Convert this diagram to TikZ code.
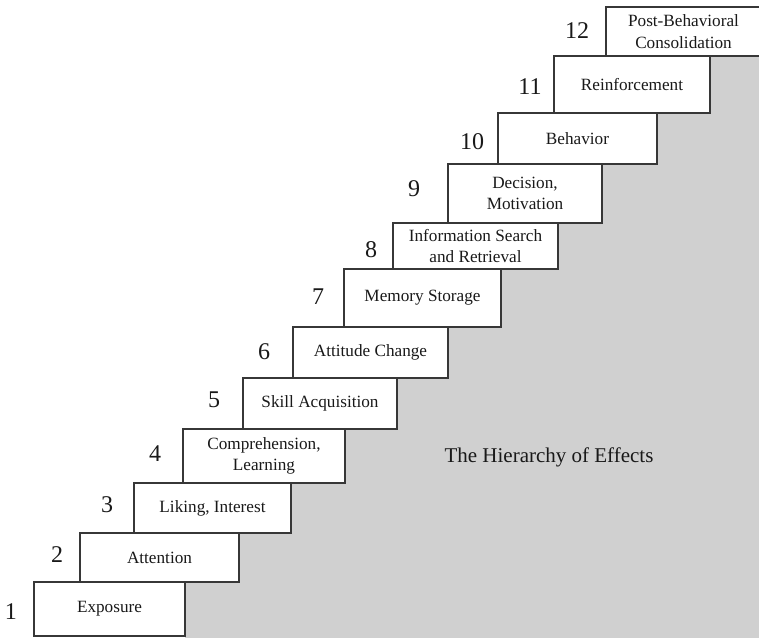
\documentclass[tikz,border=0pt]{standalone}
\usepackage{fontspec}
\setmainfont{Liberation Serif}
\usetikzlibrary{backgrounds}
\definecolor{stairgray}{RGB}{208,208,208}
\definecolor{edgecol}{RGB}{55,55,55}
\definecolor{ink}{RGB}{25,25,25}
\begin{document}
\begin{tikzpicture}[x=1pt,y=-1pt,
  stepbox/.style={draw=edgecol, fill=white, line width=1.3pt, inner sep=0pt, outer sep=0pt,
    anchor=north west, align=center, font=\fontsize{17.2}{21.5}\selectfont, text=ink},
  num/.style={font=\fontsize{24}{24}\selectfont, text=ink, inner sep=0pt},
  titletext/.style={font=\fontsize{21}{21}\selectfont, text=ink, inner sep=0pt, anchor=base}]
\useasboundingbox (0,0) rectangle (759,637);
\node[stepbox, minimum width=151pt, minimum height=54pt] (b1) at (34,582) {Exposure};
\node[stepbox, minimum width=159pt, minimum height=49pt] (b2) at (80,533) {Attention};
\node[stepbox, minimum width=157pt, minimum height=50pt] (b3) at (134,483) {Liking, Interest};
\node[stepbox, minimum width=162pt, minimum height=54pt] (b4) at (183,429) {Comprehension,\\Learning};
\node[stepbox, minimum width=154pt, minimum height=51pt] (b5) at (243,378) {Skill Acquisition};
\node[stepbox, minimum width=155pt, minimum height=51pt] (b6) at (293,327) {Attitude Change};
\node[stepbox, minimum width=157pt, minimum height=58pt] (b7) at (344,269) {Memory Storage};
\node[stepbox, minimum width=165pt, minimum height=46pt] (b8) at (393,223) {Information Search\\and Retrieval};
\node[stepbox, minimum width=154pt, minimum height=59pt] (b9) at (448,164) {Decision,\\Motivation};
\node[stepbox, minimum width=159pt, minimum height=51pt] (b10) at (498,113) {Behavior};
\node[stepbox, minimum width=156pt, minimum height=57pt] (b11) at (554,56) {Reinforcement};
\node[stepbox, minimum width=155pt, minimum height=49pt] (b12) at (606,7) {Post-Behavioral\\Consolidation};
\coordinate (gbr) at (765,640);
\coordinate (gbl) at (185,640);
\begin{pgfonlayer}{background}
\fill[stairgray] (gbl) -- (b1.north east) -- (b2.south east) -- (b2.north east)
  -- (b3.south east) -- (b3.north east) -- (b4.south east) -- (b4.north east)
  -- (b5.south east) -- (b5.north east) -- (b6.south east) -- (b6.north east)
  -- (b7.south east) -- (b7.north east) -- (b8.south east) -- (b8.north east)
  -- (b9.south east) -- (b9.north east) -- (b10.south east) -- (b10.north east)
  -- (b11.south east) -- (b11.north east) -- (b12.south east) -- (gbr) -- cycle;
\end{pgfonlayer}
\node[num] (n1) at (11,612) {1};
\node[num] (n2) at (57,555) {2};
\node[num] (n3) at (107,505) {3};
\node[num] (n4) at (155,454) {4};
\node[num] (n5) at (214,400) {5};
\node[num] (n6) at (264,352) {6};
\node[num] (n7) at (318,297) {7};
\node[num] (n8) at (371,250) {8};
\node[num] (n9) at (414,189) {9};
\node[num] (n10) at (472,142) {10};
\node[num] (n11) at (530,87) {11};
\node[num] (n12) at (577,31) {12};
\node[titletext] (title) at (549,462) {The Hierarchy of Effects};
\end{tikzpicture}
\end{document}
